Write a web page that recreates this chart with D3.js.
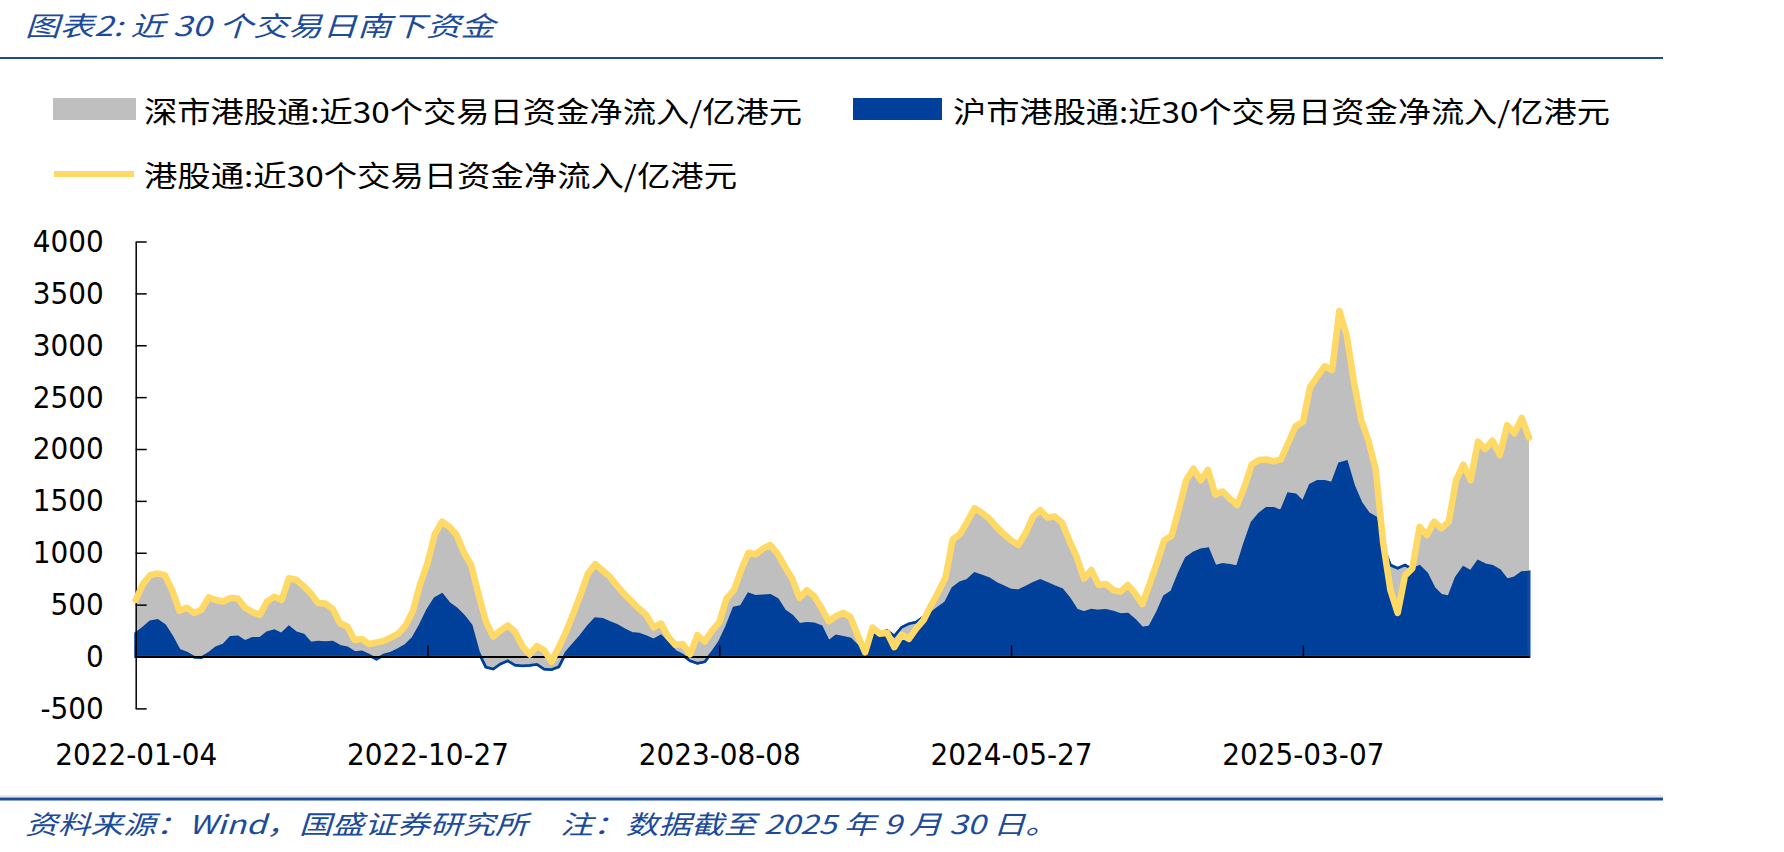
<!DOCTYPE html>
<html>
<head>
<meta charset="utf-8">
<script src="https://cdn.jsdelivr.net/npm/d3@7"></script>
<style>
body { margin:0; background:#fff; }
</style>
</head>
<body>
<svg id="chart" width="1784" height="852"></svg>
<script>
// 数据: 约每5个交易日取一个点
var tickLabels = ['2022-01-04','2022-10-27','2023-08-08','2024-05-27','2025-03-07']
var tickIndex = [0, 40, 80, 120, 160]
var yTicks = [-500, 0, 500, 1000, 1500, 2000, 2500, 3000, 3500, 4000]

// 沪市港股通 近30个交易日资金净流入
var shData = [223,275,336,350,300,190,60,35,-5,-10,30,85,111,185,191,145,175,175,230,250,
  217,285,230,210,130,140,135,140,100,85,40,45,14,-25,15,35,70,110,180,305,
  450,560,600,510,460,390,300,45,-100,-120,-70,-40,-82,-90,-85,-75,-120,-125,-98,40,
  120,200,290,365,360,330,300,260,225,217,191,160,200,130,50,15,-40,-65,-50,40,
  140,290,470,485,605,580,585,590,550,440,390,310,320,315,290,145,200,185,170,100,
  80,250,230,250,195,280,315,330,380,416,470,520,660,712,735,800,776,750,706,674,
  641,635,670,706,735,705,674,645,560,450,425,449,440,445,430,405,410,350,275,288,
  420,580,625,800,950,1000,1030,1040,870,890,880,866,1091,1290,1375,1430,1430,1400,1570,1560,
  1490,1655,1690,1690,1670,1860,1880,1640,1480,1380,1340,1060,880,850,880,840,870,800,660,590,
  577,760,860,820,920,885,870,830,740,760,810,815]

// 港股通 近30个交易日资金净流入 (合计)
var hkData = [545,700,785,800,785,640,440,470,420,450,570,545,530,565,560,470,430,400,530,577,
  545,754,740,680,610,515,510,460,320,290,160,170,120,135,150,185,220,300,440,700,
  900,1180,1300,1250,1171,1000,880,600,340,191,250,300,239,100,20,100,60,-50,90,240,
  416,600,800,890,830,770,680,600,530,460,400,280,320,190,111,120,20,207,143,250,
  330,561,640,834,1000,985,1040,1075,990,866,750,565,640,580,470,340,390,420,380,200,
  40,280,220,230,90,210,170,270,350,490,620,760,1130,1180,1300,1430,1385,1330,1250,1180,
  1120,1075,1190,1348,1410,1340,1350,1290,1115,960,750,834,690,700,641,625,690,609,505,700,
  905,1120,1165,1420,1700,1810,1700,1798,1560,1590,1520,1460,1637,1850,1894,1900,1880,1900,2060,2220,
  2260,2600,2700,2800,2760,3330,3100,2650,2280,2080,1800,1100,641,420,780,850,1250,1170,1300,1235,
  1300,1700,1850,1700,2071,2000,2080,1942,2230,2150,2300,2110]

var seriesNames = ['深市港股通:近30个交易日资金净流入/亿港元',
                   '沪市港股通:近30个交易日资金净流入/亿港元',
                   '港股通:近30个交易日资金净流入/亿港元']

var titleText = '图表2:  近 30 个交易日南下资金'
var noteText = '资料来源：Wind，国盛证券研究所　注：数据截至 2025 年 9 月 30 日。'

var c_blue = '#01409a', c_gray = '#bfbfbf', c_yellow = '#ffd966', c_head = '#1c4b9c'
var cjk = '"Noto Sans CJK SC", "Noto Sans", sans-serif'
var num = '"DejaVu Sans Condensed", "DejaVu Sans", sans-serif'

var svg = d3.select('#chart')
svg.append('rect').attr('width',1784).attr('height',852).attr('fill','#fff')

var x = d3.scaleLinear().domain([0, shData.length - 1]).range([135.7, 1529])
var y = d3.scaleLinear().domain([-500, 4000]).range([708.4, 241.5])

// 标题 / 页脚
svg.append('text').attr('x',25).attr('y',24).attr('dominant-baseline','central')
    .attr('font-family',cjk).attr('font-size',27).attr('font-style','italic')
    .attr('fill',c_head).attr('textLength',470).attr('lengthAdjust','spacingAndGlyphs')
    .text(titleText)
svg.append('line').attr('x1',0).attr('x2',1663).attr('y1',58).attr('y2',58)
    .attr('stroke',c_head).attr('stroke-width',2)
svg.append('line').attr('x1',0).attr('x2',1663).attr('y1',796).attr('y2',796)
    .attr('stroke','#c9d3e6').attr('stroke-width',1)
svg.append('line').attr('x1',0).attr('x2',1663).attr('y1',799).attr('y2',799)
    .attr('stroke',c_head).attr('stroke-width',3)
svg.append('text').attr('x',25).attr('y',822).attr('dominant-baseline','central')
    .attr('font-family',cjk).attr('font-size',26).attr('font-style','italic')
    .attr('fill',c_head).attr('textLength',1033).attr('lengthAdjust','spacingAndGlyphs')
    .text(noteText)

// 图例
var lg = svg.append('g')
lg.append('rect').attr('x',53).attr('y',98).attr('width',83).attr('height',22).attr('fill',c_gray)
lg.append('rect').attr('x',853).attr('y',98).attr('width',89).attr('height',22).attr('fill',c_blue)
lg.append('line').attr('x1',54).attr('x2',134).attr('y1',174).attr('y2',174)
    .attr('stroke',c_yellow).attr('stroke-width',6)
var legendPos = [[144,110,658],[953,110,657],[144,174,593]]
lg.selectAll('text.lg').data(seriesNames).enter().append('text')
    .attr('class','lg')
    .attr('x',function(d,i){return legendPos[i][0]})
    .attr('y',function(d,i){return legendPos[i][1]})
    .attr('textLength',function(d,i){return legendPos[i][2]})
    .attr('lengthAdjust','spacingAndGlyphs')
    .attr('dominant-baseline','central')
    .attr('font-family',cjk).attr('font-size',29).attr('fill','#000')
    .text(function(d){return d})

// 面积
var blueArea = d3.area().x(function(d,i){return x(i)}).y0(y(0)).y1(function(d){return y(d)})
var grayArea = d3.area().x(function(d,i){return x(i)})
    .y0(function(d,i){return y(shData[i])}).y1(function(d){return y(d)})
var lineGen = d3.line().x(function(d,i){return x(i)}).y(function(d){return y(d)})

svg.append('path').datum(shData).attr('d',blueArea)
    .attr('fill',c_blue).attr('stroke','#0d4aa6').attr('stroke-width',3)
svg.append('path').datum(hkData).attr('d',grayArea).attr('fill',c_gray)
svg.append('path').datum(shData).attr('d',lineGen)
    .attr('fill','none').attr('stroke',c_blue).attr('stroke-width',2.5)

// 坐标轴
var yAxis = d3.axisLeft(y).tickValues(yTicks).tickSizeInner(-11).tickSizeOuter(0)
    .tickPadding(32).tickFormat(function(d){return String(d)})
var gy = svg.append('g').attr('transform','translate(135.7,0)').call(yAxis)
gy.select('.domain').attr('stroke','#000').attr('stroke-width',1.5)
gy.selectAll('line').attr('stroke','#000').attr('stroke-width',1.5)
gy.selectAll('text').attr('font-family',num).attr('font-size',31).attr('fill','#000')

var xAxis = d3.axisBottom(x).tickValues(tickIndex).tickSizeInner(-11).tickSizeOuter(0)
    .tickFormat('')
var gx = svg.append('g').attr('transform','translate(0,' + y(0) + ')').call(xAxis)
gx.select('.domain').attr('stroke','#000').attr('stroke-width',2)
gx.selectAll('line').attr('stroke','#000').attr('stroke-width',1.5)

var xLab = d3.axisBottom(x).tickValues(tickIndex).tickSize(0).tickPadding(35)
    .tickFormat(function(d,i){return tickLabels[i]})
var gl = svg.append('g').attr('transform','translate(0,' + y(-500) + ')').call(xLab)
gl.select('.domain').remove()
gl.selectAll('text').attr('font-family',num).attr('font-size',31).attr('fill','#000')

// 港股通合计线
svg.append('path').datum(hkData).attr('d',lineGen)
    .attr('fill','none').attr('stroke',c_yellow).attr('stroke-width',6.5)
    .attr('stroke-linejoin','round').attr('stroke-linecap','round')
</script>
</body>
</html>
